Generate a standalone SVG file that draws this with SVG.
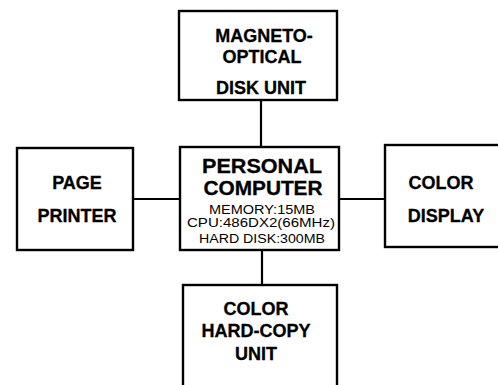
<svg xmlns="http://www.w3.org/2000/svg" width="498" height="385" viewBox="0 0 498 385">
  <style>
    .box { fill: #fff; stroke: #000; stroke-width: 2.4; }
    .wire { stroke: #000; stroke-width: 2.2; fill: none; }
    .t { font-family: "Liberation Sans", Arial, sans-serif; font-weight: bold; font-size: 18px; fill: #000; text-anchor: middle; stroke: #000; stroke-width: 0.3; }
    .big { font-size: 20px; }
    .spec { font-family: "Liberation Sans", Arial, sans-serif; font-size: 12px; fill: #000; text-anchor: middle; }
  </style>
  <rect width="498" height="385" fill="#fff"/>

  <!-- links between the computer and its peripherals -->
  <g id="connectors">
    <line class="wire" x1="261" y1="100" x2="261" y2="148"/>
    <line class="wire" x1="133" y1="199" x2="180" y2="199"/>
    <line class="wire" x1="339" y1="199" x2="385" y2="199"/>
    <line class="wire" x1="262" y1="250" x2="262" y2="285"/>
  </g>

  <g id="mo-disk">
    <rect class="box" x="179" y="11" width="158" height="89"/>
    <text class="t" x="264" y="42">MAGNETO-</text>
    <text class="t" x="262" y="63">OPTICAL</text>
    <text class="t" x="261" y="94">DISK UNIT</text>
  </g>

  <g id="page-printer">
    <rect class="box" x="17" y="148" width="116" height="102"/>
    <text class="t" x="77" y="189">PAGE</text>
    <text class="t" x="77" y="222">PRINTER</text>
  </g>

  <g id="personal-computer">
    <rect class="box" x="180" y="147" width="159" height="103"/>
    <text class="t big" x="262" y="173" textLength="120" lengthAdjust="spacingAndGlyphs">PERSONAL</text>
    <text class="t big" x="263" y="195" textLength="119" lengthAdjust="spacingAndGlyphs">COMPUTER</text>
    <text class="spec" x="262" y="214" textLength="106" lengthAdjust="spacingAndGlyphs">MEMORY:15MB</text>
    <text class="spec" x="261" y="227" textLength="148" lengthAdjust="spacingAndGlyphs">CPU:486DX2(66MHz)</text>
    <text class="spec" x="262" y="243" textLength="126" lengthAdjust="spacingAndGlyphs">HARD DISK:300MB</text>
  </g>

  <g id="color-display">
    <rect class="box" x="385" y="145" width="130" height="102"/>
    <text class="t" x="441" y="189">COLOR</text>
    <text class="t" x="446" y="222">DISPLAY</text>
  </g>

  <g id="hard-copy-unit">
    <rect class="box" x="183" y="285" width="154" height="120"/>
    <text class="t" x="256" y="315">COLOR</text>
    <text class="t" x="256" y="337">HARD-COPY</text>
    <text class="t" x="256" y="360">UNIT</text>
  </g>
</svg>
